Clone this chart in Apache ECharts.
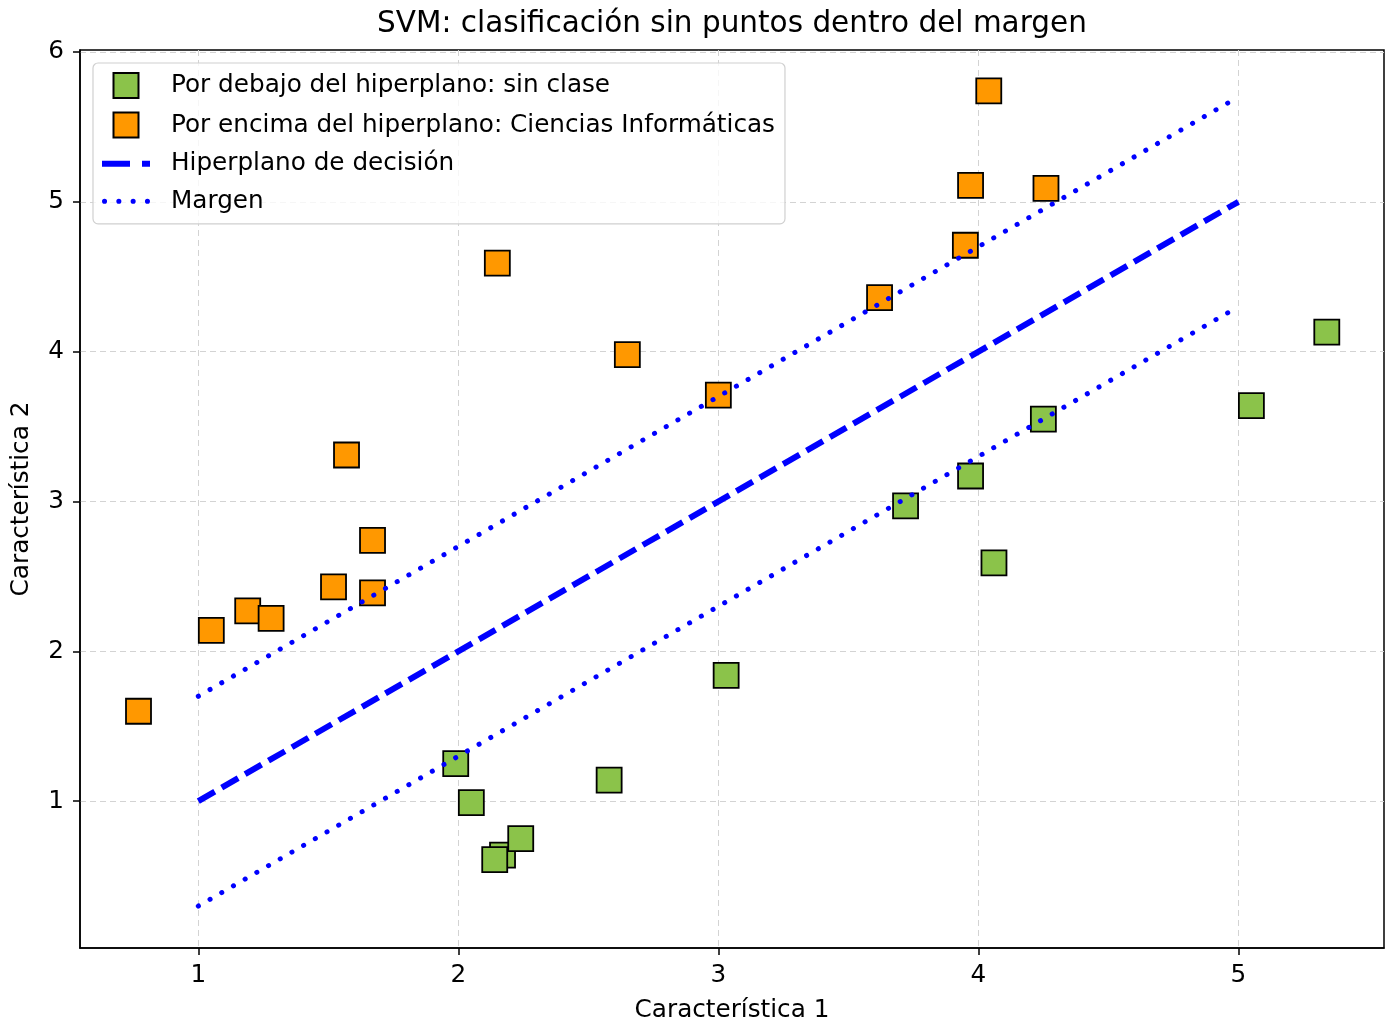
<!DOCTYPE html>
<html>
<head>
<meta charset="utf-8">
<script src="https://cdn.jsdelivr.net/npm/echarts@6/dist/echarts.min.js"></script>
<style>
  html, body { margin: 0; padding: 0; background: #fff; }
  #chart { width: 1392px; height: 1028px; }
</style>
</head>
<body>
<div id="chart"></div>
<script>
// puntos por encima del hiperplano (Ciencias Informáticas)
const aboveX = [0.77, 1.05, 1.19, 1.28, 1.52, 1.67, 1.67, 1.57, 2.15, 2.65, 3.00, 3.62, 3.95, 3.97, 4.26, 4.04]
const aboveY = [1.60, 2.14, 2.27, 2.22, 2.43, 2.39, 2.74, 3.31, 4.59, 3.98, 3.71, 4.36, 4.71, 5.11, 5.09, 5.74]
// puntos por debajo del hiperplano (sin clase)
const belowX = [1.99, 2.05, 2.17, 2.14, 2.24, 2.58, 3.03, 3.72, 3.97, 4.06, 4.25, 5.05, 5.34]
const belowY = [1.25, 0.99, 0.64, 0.61, 0.75, 1.14, 1.84, 2.97, 3.17, 2.59, 3.55, 3.64, 4.13]
// hiperplano y margenes
const lineX = [1, 5]
const hyperY = [1, 5]
const marginUpY = [1.7, 5.7]
const marginDownY = [0.3, 4.3]
// ticks
const xTicks = [1, 2, 3, 4, 5]
const yTicks = [1, 2, 3, 4, 5, 6]

const font = 'DejaVu Sans'
const fs = 24.7

function pairs(xs, ys) {
  return xs.map((x, i) => [x, ys[i]])
}

// iconos de la leyenda
const squareIcon = 'path://M0,0h10v10h-10z'
const dashIcon = 'path://M0,0h28v6h-28z M40,0h8v6h-8z'
const dot = (x) => 'M' + x + ',2.4a2.4,2.4 0 1,0 4.8,0a2.4,2.4 0 1,0 -4.8,0z'
const dotIcon = 'path://' + [0, 13.5, 27, 40.5].map(dot).join(' ')

const chart = echarts.init(document.getElementById('chart'))

const splitStyle = {
  show: true,
  lineStyle: { color: '#d3d3d3', type: [6, 4], width: 1 }
}

chart.setOption({
  animation: false,
  backgroundColor: '#fff',
  textStyle: { fontFamily: font, color: '#000' },
  title: {
    text: 'SVM: clasificación sin puntos dentro del margen',
    left: 727,
    textAlign: 'center',
    top: 4,
    textStyle: { fontFamily: font, fontSize: 29.5, fontWeight: 'normal', color: '#000' }
  },
  legend: {
    orient: 'vertical',
    left: 93,
    top: 63,
    padding: [9, 10, 10, 9],
    itemGap: 12.6,
    itemWidth: 48,
    itemHeight: 25,
    backgroundColor: 'rgba(255,255,255,0.8)',
    borderColor: '#d0d0d0',
    borderWidth: 1.2,
    borderRadius: 5,
    textStyle: { fontFamily: font, fontSize: fs, lineHeight: 25, color: '#000', padding: [0, 0, 0, 16] },
    data: [
      { name: 'Por debajo del hiperplano: sin clase', icon: squareIcon },
      { name: 'Por encima del hiperplano: Ciencias Informáticas', icon: squareIcon },
      { name: 'Hiperplano de decisión', icon: dashIcon },
      { name: 'Margen', icon: dotIcon }
    ]
  },
  grid: {
    left: 80,
    right: 8,
    top: 50,
    bottom: 79,
    show: true,
    borderColor: '#000',
    borderWidth: 1.5
  },
  xAxis: {
    type: 'value',
    min: 0.545,
    max: 5.56,
    name: 'Característica 1',
    nameLocation: 'middle',
    nameGap: 50,
    nameTextStyle: { fontFamily: font, fontSize: fs, color: '#000' },
    axisLine: { show: true, onZero: false, lineStyle: { color: '#000', width: 1.5 } },
    axisTick: { show: true, length: 7, customValues: xTicks, lineStyle: { color: '#000', width: 1.5 } },
    axisLabel: { customValues: xTicks, fontFamily: font, fontSize: fs, color: '#000', margin: 15 },
    splitLine: splitStyle
  },
  yAxis: {
    type: 'value',
    min: 0.02,
    max: 6.013,
    name: 'Característica 2',
    nameLocation: 'middle',
    nameGap: 46,
    nameTextStyle: { fontFamily: font, fontSize: fs, color: '#000' },
    axisLine: { show: true, onZero: false, lineStyle: { color: '#000', width: 1.5 } },
    axisTick: { show: true, length: 7, customValues: yTicks, lineStyle: { color: '#000', width: 1.5 } },
    axisLabel: { customValues: yTicks, fontFamily: font, fontSize: fs, color: '#000', margin: 16 },
    splitLine: splitStyle
  },
  series: [
    {
      name: 'Por debajo del hiperplano: sin clase',
      type: 'scatter',
      symbol: 'rect',
      symbolSize: 25,
      z: 2,
      itemStyle: { color: '#8bc34a', borderColor: '#000', borderWidth: 1.8, opacity: 1 },
      data: pairs(belowX, belowY)
    },
    {
      name: 'Por encima del hiperplano: Ciencias Informáticas',
      type: 'scatter',
      symbol: 'rect',
      symbolSize: 25,
      z: 2,
      itemStyle: { color: '#ff9800', borderColor: '#000', borderWidth: 1.8, opacity: 1 },
      data: pairs(aboveX, aboveY)
    },
    {
      name: 'Hiperplano de decisión',
      type: 'line',
      symbol: 'none',
      z: 5,
      lineStyle: { color: '#0000ff', width: 6, type: [19, 8] },
      itemStyle: { color: '#0000ff' },
      data: pairs(lineX, hyperY)
    },
    {
      name: 'Margen',
      type: 'line',
      symbol: 'none',
      z: 5,
      lineStyle: { color: '#0000ff', width: 5, type: [0.1, 13.4], cap: 'round' },
      itemStyle: { color: '#0000ff' },
      data: pairs(lineX, marginUpY)
    },
    {
      name: 'Margen',
      type: 'line',
      symbol: 'none',
      z: 5,
      lineStyle: { color: '#0000ff', width: 5, type: [0.1, 13.4], cap: 'round' },
      itemStyle: { color: '#0000ff' },
      data: pairs(lineX, marginDownY)
    }
  ]
})
</script>
</body>
</html>
